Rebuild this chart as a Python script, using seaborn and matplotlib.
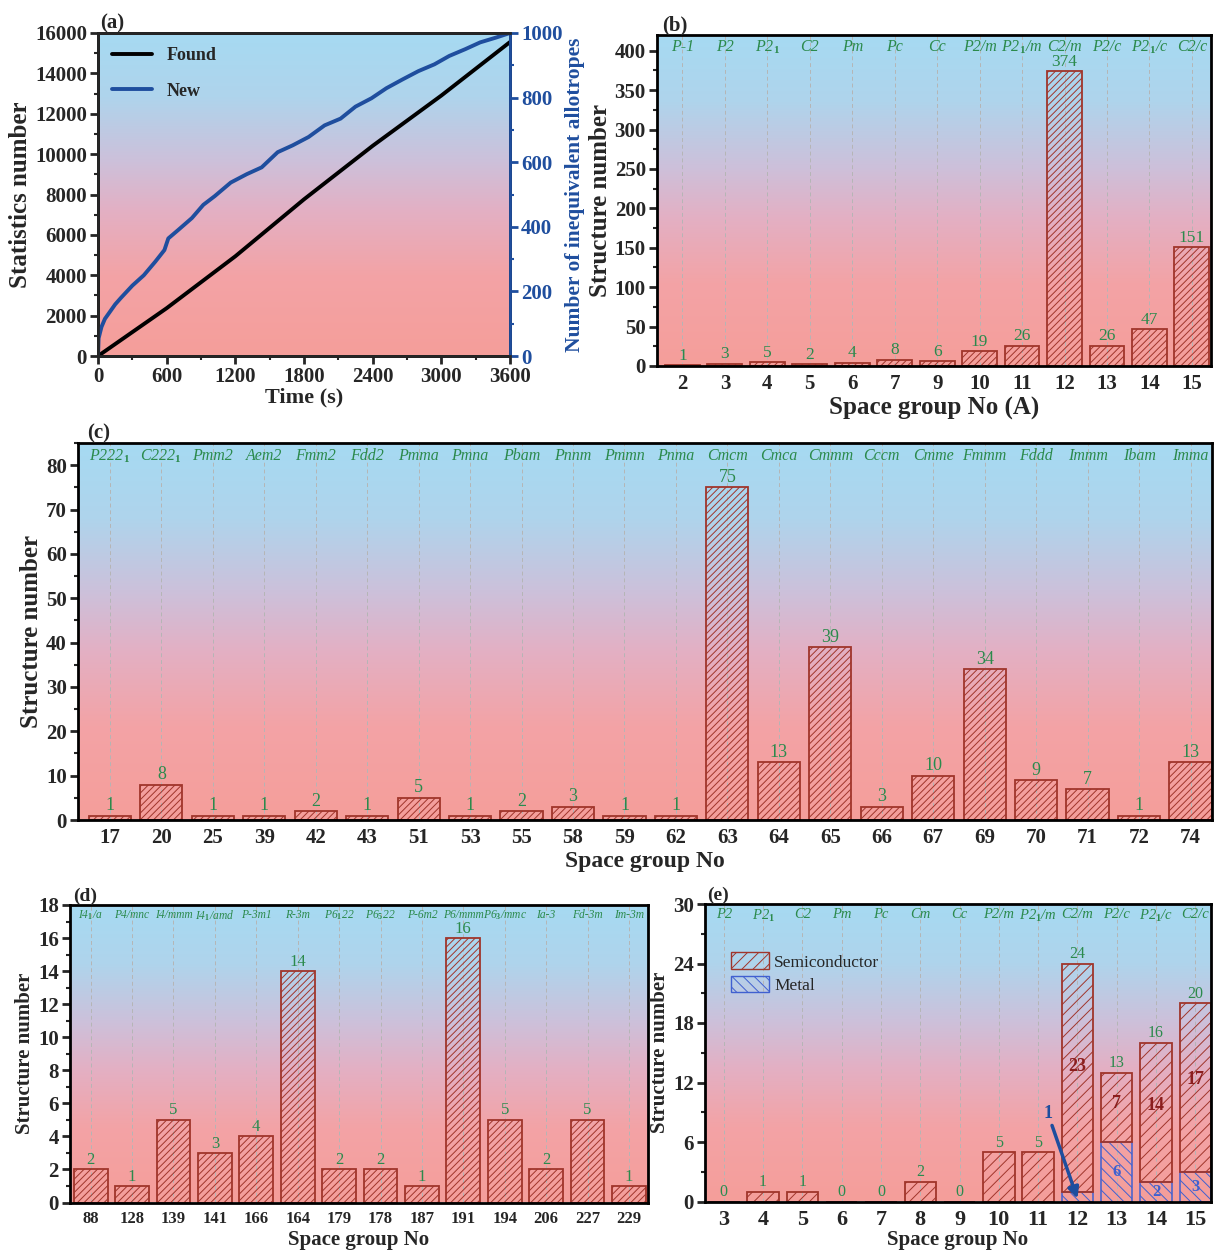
import matplotlib
matplotlib.use("Agg")
import matplotlib.pyplot as plt
import matplotlib.transforms as mtransforms
import numpy as np
import seaborn as sns
from matplotlib.colors import LinearSegmentedColormap
from matplotlib.patches import Patch
from matplotlib.ticker import MultipleLocator

sns.set_style("ticks")
plt.rcParams['font.family'] = ['Liberation Serif', 'DejaVu Serif']
plt.rcParams['font.weight'] = 'bold'
plt.rcParams['axes.labelweight'] = 'bold'
plt.rcParams['mathtext.fontset'] = 'custom'
plt.rcParams['mathtext.it'] = 'Liberation Serif:italic'
plt.rcParams['mathtext.rm'] = 'Liberation Serif'
plt.rcParams['mathtext.default'] = 'it'
plt.rcParams['hatch.linewidth'] = 0.7

GREEN = '#2b8a4c'
RED = '#a0352b'
DARKRED = '#8b1e1e'
BLUE = '#1f4e9e'
METAL = '#4060d0'

# ---- data, panel (a)
time_found = [0, 600, 1200, 1800, 2400, 3000, 3600]
found = [0, 2370, 4940, 7760, 10410, 12900, 15550]
time_new = [0, 5, 30, 60, 100, 150, 200, 300, 400, 500, 580, 614, 700, 820, 920,
            1020, 1160, 1300, 1430, 1570, 1700, 1840, 1980, 2120, 2250, 2390, 2520,
            2660, 2800, 2940, 3070, 3210, 3340, 3480, 3600]
new_allotropes = [0, 55, 90, 115, 135, 160, 180, 218, 250, 292, 328, 364, 390, 427, 468,
                  495, 537, 563, 584, 631, 652, 678, 714, 735, 772, 798, 829,
                  856, 882, 903, 929, 950, 971, 986, 1000]

# ---- panel (b)
sg_b = ['2', '3', '4', '5', '6', '7', '9', '10', '11', '12', '13', '14', '15']
sym_b = ['P-1', 'P2', 'P2$_1$', 'C2', 'Pm', 'Pc', 'Cc', 'P2/m', 'P2$_1$/m', 'C2/m',
         'P2/c', 'P2$_1$/c', 'C2/c']
cnt_b = [1, 3, 5, 2, 4, 8, 6, 19, 26, 374, 26, 47, 151]

# ---- panel (c)
sg_c = ['17', '20', '25', '39', '42', '43', '51', '53', '55', '58', '59', '62', '63',
        '64', '65', '66', '67', '69', '70', '71', '72', '74']
sym_c = ['P222$_1$', 'C222$_1$', 'Pmm2', 'Aem2', 'Fmm2', 'Fdd2', 'Pmma', 'Pmna', 'Pbam',
         'Pnnm', 'Pmmn', 'Pnma', 'Cmcm', 'Cmca', 'Cmmm', 'Cccm', 'Cmme', 'Fmmm', 'Fddd',
         'Immm', 'Ibam', 'Imma']
cnt_c = [1, 8, 1, 1, 2, 1, 5, 1, 2, 3, 1, 1, 75, 13, 39, 3, 10, 34, 9, 7, 1, 13]

# ---- panel (d)
sg_d = ['88', '128', '139', '141', '166', '164', '179', '178', '187', '191', '194',
        '206', '227', '229']
sym_d = ['I4$_1$/a', 'P4/mnc', 'I4/mmm', 'I4$_1$/amd', 'P-3m1', 'R-3m', 'P6$_1$22',
         'P6$_5$22', 'P-6m2', 'P6/mmm', 'P6$_3$/mmc', 'Ia-3', 'Fd-3m', 'Im-3m']
cnt_d = [2, 1, 5, 3, 4, 14, 2, 2, 1, 16, 5, 2, 5, 1]

# ---- panel (e)
sg_e = ['3', '4', '5', '6', '7', '8', '9', '10', '11', '12', '13', '14', '15']
sym_e = ['P2', 'P2$_1$', 'C2', 'Pm', 'Pc', 'Cm', 'Cc', 'P2/m', 'P2$_1$/m', 'C2/m',
         'P2/c', 'P2$_1$/c', 'C2/c']
total_e = [0, 1, 1, 0, 0, 2, 0, 5, 5, 24, 13, 16, 20]
metal_e = [0, 0, 0, 0, 0, 0, 0, 0, 0, 1, 6, 2, 3]
semi_e = [t - m for t, m in zip(total_e, metal_e)]

bg_cmap = LinearSegmentedColormap.from_list(
    'bg', [(0.0, '#f59e9a'), (0.25, '#f3a3a6'), (0.45, '#e3b0c4'),
           (0.6, '#cdc0da'), (0.8, '#afd4ec'), (1.0, '#a6daf2')])


def add_gradient(ax):
    grad = np.linspace(0, 1, 256).reshape(-1, 1)
    ax.imshow(grad, extent=[0, 1, 0, 1], transform=ax.transAxes, origin='lower',
              aspect='auto', cmap=bg_cmap, zorder=0)


def frame(ax):
    for s in ax.spines.values():
        s.set_linewidth(2)
        s.set_color('black')


def style_bars(bars, hatch, color, lw=1.3):
    for p in bars:
        p.set_facecolor('none')
        p.set_edgecolor(color)
        p.set_hatch(hatch)
        p.set_linewidth(lw)


def top_labels(ax, symbols, fs):
    trans = mtransforms.blended_transform_factory(ax.transData, ax.transAxes)
    for i, s in enumerate(symbols):
        ax.text(i, 0.988, s, transform=trans, ha='center', va='top', color=GREEN,
                fontsize=fs, style='italic', fontweight='normal')


def bar_panel(ax, groups, symbols, counts, xlim, ylim, major, minor,
              tick_fs, xtick_fs, lab_fs, sym_fs, val_fs, xlabel, ylabel_fs):
    sns.barplot(x=groups, y=counts, ax=ax, color=RED, errorbar=None, width=0.82)
    bars = ax.containers[-1]
    style_bars(bars, '/////', RED)
    ax.bar_label(bars, labels=[str(v) for v in counts], padding=1, color=GREEN,
                 fontsize=val_fs, fontweight='normal')
    top_labels(ax, symbols, sym_fs)
    ax.set_xlim(*xlim)
    ax.set_ylim(*ylim)
    ax.yaxis.set_major_locator(MultipleLocator(major))
    ax.yaxis.set_minor_locator(MultipleLocator(minor))
    ax.grid(axis='x', linestyle=(0, (4, 3)), color='#b5b5b5', linewidth=0.7)
    ax.set_axisbelow(True)
    ax.tick_params(axis='y', which='major', length=6, width=2, labelsize=tick_fs, pad=2)
    ax.tick_params(axis='y', which='minor', length=3, width=1.5)
    ax.tick_params(axis='x', length=0, labelsize=xtick_fs, pad=6)
    ax.set_xlabel(xlabel, fontsize=lab_fs, labelpad=2)
    ax.set_ylabel('Structure number', fontsize=ylabel_fs, labelpad=2)
    frame(ax)
    add_gradient(ax)


fig = plt.figure(figsize=(12.15, 12.5), dpi=100)
ax_a = fig.add_axes([0.0807, 0.7152, 0.339, 0.2584])
ax_b = fig.add_axes([0.5407, 0.7072, 0.4560, 0.2648])
ax_c = fig.add_axes([0.0642, 0.344, 0.9330, 0.3016])
ax_d = fig.add_axes([0.0576, 0.038, 0.4757, 0.238])
ax_e = fig.add_axes([0.5802, 0.0388, 0.4165, 0.238])

# ---- (a)
sns.lineplot(x=time_found, y=found, ax=ax_a, color='black', linewidth=2.8)
ax_a2 = ax_a.twinx()
sns.lineplot(x=time_new, y=new_allotropes, ax=ax_a2, color=BLUE, linewidth=2.8)
ax_a.set_xlim(0, 3600)
ax_a.set_ylim(0, 16000)
ax_a2.set_ylim(0, 1000)
ax_a.xaxis.set_major_locator(MultipleLocator(600))
ax_a.xaxis.set_minor_locator(MultipleLocator(300))
ax_a.yaxis.set_major_locator(MultipleLocator(2000))
ax_a.yaxis.set_minor_locator(MultipleLocator(1000))
ax_a2.yaxis.set_major_locator(MultipleLocator(200))
ax_a2.yaxis.set_minor_locator(MultipleLocator(100))
ax_a.tick_params(which='major', length=6, width=2, labelsize=15, pad=2)
ax_a.tick_params(which='minor', length=3, width=1.5)
ax_a2.tick_params(which='major', length=6, width=2, labelsize=15, colors=BLUE, pad=2)
ax_a2.tick_params(which='minor', length=3, width=1.5, colors=BLUE)
ax_a.set_xlabel('Time (s)', fontsize=16, labelpad=0)
ax_a.set_ylabel('Statistics number', fontsize=18, labelpad=2)
ax_a2.set_ylabel('Number of inequivalent allotropes', fontsize=15.5, color=BLUE,
                 labelpad=2)
frame(ax_a)
for s in ax_a2.spines.values():
    s.set_linewidth(2)
ax_a2.spines['right'].set_color(BLUE)
ax_a.legend(handles=[ax_a.lines[0], ax_a2.lines[0]], labels=['Found', 'New'],
            loc='upper left', frameon=False, fontsize=13, handlelength=2.2,
            labelspacing=1.0, borderaxespad=0.4)
add_gradient(ax_a)
ax_a.text(0.005, 1.0, '(a)', transform=ax_a.transAxes, fontsize=15, va='bottom')

# ---- (b)
bar_panel(ax_b, sg_b, sym_b, cnt_b, (-0.6, 12.45), (0, 420), 50, 25,
          15, 15, 18, 11.5, 12.5, 'Space group No (A)', 18)
ax_b.text(0.01, 1.0, '(b)', transform=ax_b.transAxes, fontsize=15, va='bottom')

# ---- (c)
bar_panel(ax_c, sg_c, sym_c, cnt_c, (-0.62, 21.41), (0, 85), 10, 5,
          15, 15, 17, 11.5, 13, 'Space group No', 18)
ax_c.text(0.008, 1.0, '(c)', transform=ax_c.transAxes, fontsize=15, va='bottom')

# ---- (d)
bar_panel(ax_d, sg_d, sym_d, cnt_d, (-0.5, 13.46), (0, 18), 2, 1,
          15, 12, 15, 8.3, 12, 'Space group No', 15)
ax_d.text(0.005, 1.0, '(d)', transform=ax_d.transAxes, fontsize=14, va='bottom')

# ---- (e) stacked semiconductor / metal
sns.barplot(x=sg_e, y=metal_e, ax=ax_e, color=METAL, errorbar=None, width=0.8)
metal_bars = ax_e.containers[-1]
style_bars(metal_bars, '\\\\\\', METAL, lw=1.1)
sns.barplot(x=sg_e, y=semi_e, ax=ax_e, color=RED, errorbar=None, width=0.8,
            bottom=metal_e)
semi_bars = ax_e.containers[-1]
style_bars(semi_bars, '///', RED, lw=1.3)
ax_e.bar_label(semi_bars, labels=[str(v) for v in total_e], padding=1, color=GREEN,
               fontsize=11.5, fontweight='normal')
for i, (m, s) in enumerate(zip(metal_e, semi_e)):
    if m > 1:
        ax_e.text(i, m / 2, str(m), ha='center', va='center', color=METAL,
                  fontsize=12)
    if m > 0:
        ax_e.text(i, m + s * 0.55, str(s), ha='center', va='center', color=DARKRED,
                  fontsize=13)
i12 = sg_e.index('12')
ax_e.annotate(str(metal_e[i12]), xy=(i12, metal_e[i12] * 0.3), xytext=(i12 - 0.75, 8.0),
              color=BLUE, fontsize=13, ha='center', va='bottom',
              arrowprops=dict(arrowstyle='-|>', color=BLUE, lw=2.5, mutation_scale=16,
                              shrinkA=0, shrinkB=0))
top_labels(ax_e, sym_e, 10.5)
ax_e.set_xlim(-0.48, 12.4)
ax_e.set_ylim(0, 30)
ax_e.yaxis.set_major_locator(MultipleLocator(6))
ax_e.yaxis.set_minor_locator(MultipleLocator(3))
ax_e.grid(axis='x', linestyle=(0, (4, 3)), color='#b5b5b5', linewidth=0.7)
ax_e.set_axisbelow(True)
ax_e.tick_params(axis='y', which='major', length=6, width=2, labelsize=15, pad=2)
ax_e.tick_params(axis='y', which='minor', length=3, width=1.5)
ax_e.tick_params(axis='x', length=0, labelsize=16, pad=6)
ax_e.set_xlabel('Space group No', fontsize=15, labelpad=0)
ax_e.set_ylabel('Structure number', fontsize=15, labelpad=2)
ax_e.legend(handles=[Patch(facecolor='none', edgecolor=RED, hatch='///'),
                     Patch(facecolor='none', edgecolor=METAL, hatch='\\\\\\')],
            labels=['Semiconductor', 'Metal'], loc='upper left',
            bbox_to_anchor=(0.02, 0.89), frameon=False, handlelength=2.2,
            handleheight=1.1, labelspacing=0.3, handletextpad=0.3,
            prop={'size': 12.5, 'weight': 'normal'})
frame(ax_e)
add_gradient(ax_e)
ax_e.text(0.005, 1.0, '(e)', transform=ax_e.transAxes, fontsize=14, va='bottom')

fig.savefig('out.png', dpi=100)
